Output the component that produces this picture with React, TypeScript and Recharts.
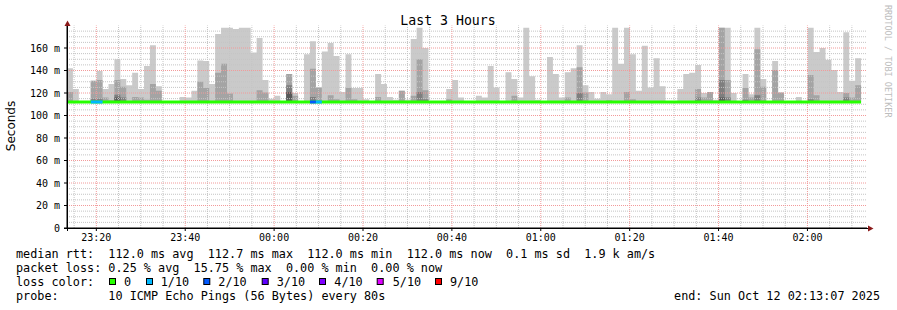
import React from 'react';
import { ComposedChart, Area, Line, XAxis, YAxis, ReferenceLine } from 'recharts';

// time axis: minutes after 23:00 (so 60 = 00:00)
const START_MIN = 13.4;
const STEP_MIN = 80 / 60;
const MEDIAN_RTT = 112; // ms

// smoke band tops (ms), one value per 80 s step
const lightTop = [
  142, 123.5, 112, 112, 131, 139.5, 123.5, 128, 150, 132.5,
  127, 138, 123.5, 144, 162.5, 126, 112, 113, 113, 116.5,
  116, 122, 149, 148.5, 128, 172.5, 178, 178, 177, 178,
  178, 156, 169, 131.5, 115, 117.5, 112, 137, 120, 112,
  154.5, 166, 125, 157, 164.5, 153, 121, 154.5, 124.5, 124.5,
  114.5, 112, 137, 128, 116.5, 114, 122, 114, 168, 178,
  160, 112, 112, 112, 123.5, 131.5, 116, 112, 112, 117.5,
  116, 144, 125, 112, 138.5, 132.5, 116, 178, 135, 114,
  112, 152, 137, 116, 138.5, 142, 162.5, 127, 121, 115,
  121, 119, 178, 146, 178, 154.5, 122, 162, 125, 151,
  126, 112, 113, 123.5, 137, 138, 145, 120, 121, 114,
  178, 178, 120, 112, 137, 119, 178, 132.5, 112, 148.5,
  121, 112, 112, 116.5, 112, 178, 156.5, 160, 149.5, 140.5,
  121, 174, 131, 151,
];
const medTop = [
  121, 112, 112, 112, 131, 131.5, 116, 113.5, 131.5, 125.5,
  112, 116.5, 116, 114, 128, 122, 112, 112, 112, 112,
  112, 112, 130, 124.5, 112, 138, 146, 119.5, 112, 112,
  112, 112, 122.5, 120.5, 112, 112, 112, 137, 117.5, 112,
  112, 141.5, 125, 112, 118, 114.5, 112, 124.5, 114.5, 112,
  112, 112, 116.5, 112, 112, 112, 122, 112, 117.5, 150,
  122.5, 112, 112, 112, 114.5, 112, 112, 112, 112, 112,
  112, 112, 112, 112, 112, 117.5, 113, 112, 112, 112,
  112, 112, 112, 112, 116, 112, 143, 120.5, 113, 112,
  112, 113.5, 112, 112, 121, 114.5, 112, 112, 112, 112,
  112, 112, 112, 112, 112, 112, 123.5, 116, 121, 112,
  178, 131.5, 112, 112, 124.5, 116, 159, 125.5, 112, 140.5,
  120, 112, 112, 112, 112, 136, 118, 112, 112, 112,
  112, 120, 116, 127,
];
const darkTop = [
  112, 112, 112, 112, 115, 115, 112, 112, 118.5, 116,
  112, 112, 112, 112, 112, 112, 112, 112, 112, 112,
  112, 112, 112, 112, 112, 112, 112, 112, 112, 112,
  112, 112, 112, 112, 112, 112, 112, 127, 112, 112,
  112, 116.5, 113, 112, 112, 112, 112, 113, 112, 112,
  112, 112, 112, 112, 112, 112, 112, 112, 112, 121,
  114.5, 112, 112, 112, 112, 112, 112, 112, 112, 112,
  112, 112, 112, 112, 112, 112, 112, 112, 112, 112,
  112, 112, 112, 112, 112, 112, 120, 112, 112, 112,
  112, 112, 112, 112, 112, 112, 112, 112, 112, 112,
  112, 112, 112, 112, 112, 112, 116, 112, 112, 112,
  131.5, 116, 112, 112, 114, 112, 118, 113, 112, 113,
  112, 112, 112, 112, 112, 114.5, 112, 112, 112, 112,
  112, 116, 112, 112,
];
const darkestTop = [
  112, 112, 112, 112, 112, 112, 112, 112, 116, 112,
  112, 112, 112, 112, 112, 112, 112, 112, 112, 112,
  112, 112, 112, 112, 112, 112, 112, 112, 112, 112,
  112, 112, 112, 112, 112, 112, 112, 121, 112, 112,
  112, 112, 112, 112, 112, 112, 112, 112, 112, 112,
  112, 112, 112, 112, 112, 112, 112, 112, 112, 112,
  112, 112, 112, 112, 112, 112, 112, 112, 112, 112,
  112, 112, 112, 112, 112, 112, 112, 112, 112, 112,
  112, 112, 112, 112, 112, 112, 112, 112, 112, 112,
  112, 112, 112, 112, 112, 112, 112, 112, 112, 112,
  112, 112, 112, 112, 112, 112, 112, 112, 112, 112,
  116, 112, 112, 112, 112, 112, 112, 112, 112, 112,
  112, 112, 112, 112, 112, 112, 112, 112, 112, 112,
  112, 112, 112, 112,
];
// lost pings (out of 10) per step
const lossCount = [
  0, 0, 0, 0, 1, 1, 0, 0, 0, 0,
  0, 0, 0, 0, 0, 0, 0, 0, 0, 0,
  0, 0, 0, 0, 0, 0, 0, 0, 0, 0,
  0, 0, 0, 0, 0, 0, 0, 0, 0, 0,
  0, 2, 1, 0, 0, 0, 0, 0, 0, 0,
  0, 0, 0, 0, 0, 0, 0, 0, 0, 0,
  0, 0, 0, 0, 0, 0, 0, 0, 0, 0,
  0, 0, 0, 0, 0, 0, 0, 0, 0, 0,
  0, 0, 0, 0, 0, 0, 0, 0, 0, 0,
  0, 0, 0, 0, 0, 0, 0, 0, 0, 0,
  0, 0, 0, 0, 0, 0, 0, 0, 0, 0,
  0, 0, 0, 0, 0, 0, 0, 0, 0, 0,
  0, 0, 0, 0, 0, 0, 0, 0, 0, 0,
  0, 0, 0, 0,
];

const majorXTicks = [20, 40, 60, 80, 100, 120, 140, 160, 180];
const minorXTicks = [15, 25, 30, 35, 45, 50, 55, 65, 70, 75, 85, 90, 95, 105, 110, 115, 125, 130, 135, 145, 150, 155, 165, 170, 175, 185, 190];
const yTickValues = [0, 20, 40, 60, 80, 100, 120, 140, 160];
const majorYGrid = [20, 40, 60, 80, 100, 120, 140, 160];
const minorYGrid = [5, 10, 15, 25, 30, 35, 45, 50, 55, 65, 70, 75, 85, 90, 95, 105, 110, 115, 125, 130, 135, 145, 150, 155, 165, 170, 175];

const lossLegend = [
  { label: '0', color: '#26ff00', box: 109, text: 124 },
  { label: '1/10', color: '#00b8ff', box: 146, text: 160.7 },
  { label: '2/10', color: '#0059ff', box: 203.3, text: 218.3 },
  { label: '3/10', color: '#5e00ff', box: 261.7, text: 276.7 },
  { label: '4/10', color: '#7e00ff', box: 319, text: 334.3 },
  { label: '5/10', color: '#dd00ff', box: 376.7, text: 392.7 },
  { label: '9/10', color: '#ff0000', box: 435, text: 450 },
];

const fmtTime = (m: number) => {
  const h = (23 + Math.floor(m / 60)) % 24;
  const mm = Math.round(m % 60);
  return `${String(h).padStart(2, '0')}:${String(mm).padStart(2, '0')}`;
};

const mark = (arr: number[], i: number, level: number) =>
  arr[i] === level || (i > 0 && arr[i - 1] === level) ? MEDIAN_RTT : null;

const n = lightTop.length;
const rows: any[] = [];
for (let i = 0; i <= n; i++) {
  const k = Math.min(i, n - 1);
  rows.push({
    t: START_MIN + i * STEP_MIN,
    light: [MEDIAN_RTT, lightTop[k]],
    med: [MEDIAN_RTT, medTop[k]],
    dark: [MEDIAN_RTT, darkTop[k]],
    darkest: [MEDIAN_RTT, darkestTop[k]],
    median: MEDIAN_RTT,
    loss1: i < n ? mark(lossCount, i, 1) : (lossCount[n - 1] === 1 ? MEDIAN_RTT : null),
    loss2: i < n ? mark(lossCount, i, 2) : (lossCount[n - 1] === 2 ? MEDIAN_RTT : null),
  });
}

const MONO = 'DejaVu Sans Mono';
const tickStyle = { fontFamily: MONO, fontSize: 10, fill: '#000' };
const MINOR = '#c4c4c4';
const MAJOR = '#f29a9a';

export default function App() {
  return (
    <div style={{ position: 'absolute', left: 0, top: 0, width: 897, height: 310, background: '#fff' }}>
      <ComposedChart
        width={897}
        height={310}
        data={rows}
        margin={{ top: 25.5, right: 30, bottom: 62, left: 0 }}
      >
        <XAxis
          dataKey="t"
          type="number"
          domain={[13.4, 193.4]}
          ticks={majorXTicks}
          interval={0}
          tickFormatter={fmtTime}
          allowDataOverflow
          height={20}
          tickSize={3}
          tickMargin={3}
          tick={tickStyle}
          stroke="#000"
          tickLine={{ stroke: '#000' }}
          axisLine={{ stroke: '#000' }}
        />
        <YAxis
          type="number"
          domain={[0, 180]}
          ticks={yTickValues}
          interval={0}
          tickFormatter={(v: number) => (v === 0 ? '0' : `${v} m`)}
          allowDataOverflow
          width={67}
          tickSize={3}
          tickMargin={4}
          tick={tickStyle}
          stroke="#000"
          tickLine={{ stroke: '#000' }}
          axisLine={{ stroke: '#000' }}
        />
        <Area type="stepAfter" dataKey="light" fill="#cacaca" fillOpacity={1} stroke="none" dot={false} activeDot={false} isAnimationActive={false} />
        <Area type="stepAfter" dataKey="med" fill="#a4a4a4" fillOpacity={1} stroke="none" dot={false} activeDot={false} isAnimationActive={false} />
        <Area type="stepAfter" dataKey="dark" fill="#7e7e7e" fillOpacity={1} stroke="none" dot={false} activeDot={false} isAnimationActive={false} />
        <Area type="stepAfter" dataKey="darkest" fill="#585858" fillOpacity={1} stroke="none" dot={false} activeDot={false} isAnimationActive={false} />
        {minorYGrid.map((v) => (
          <ReferenceLine key={`my${v}`} y={v} stroke={MINOR} strokeDasharray="1 1" />
        ))}
        {minorXTicks.map((v) => (
          <ReferenceLine key={`mx${v}`} x={v} stroke={MINOR} strokeDasharray="1 1" />
        ))}
        {majorYGrid.map((v) => (
          <ReferenceLine key={`My${v}`} y={v} stroke={MAJOR} strokeDasharray="1 1" />
        ))}
        {majorXTicks.map((v) => (
          <ReferenceLine key={`Mx${v}`} x={v} stroke={MAJOR} strokeDasharray="1 1" />
        ))}
        <Line type="stepAfter" dataKey="median" stroke="#26ff00" strokeWidth={3} dot={false} activeDot={false} isAnimationActive={false} />
        <Line type="stepAfter" dataKey="loss1" stroke="#00b8ff" strokeWidth={3} dot={false} activeDot={false} isAnimationActive={false} />
        <Line type="stepAfter" dataKey="loss2" stroke="#0059ff" strokeWidth={3} dot={false} activeDot={false} isAnimationActive={false} />
      </ComposedChart>
      <svg
        width={897}
        height={310}
        style={{ position: 'absolute', left: 0, top: 0, pointerEvents: 'none' }}
      >
        {/* axis extensions and arrows */}
        <line x1={64} y1={228.5} x2={869} y2={228.5} stroke="#000" strokeWidth={1} />
        <line x1={67.5} y1={231} x2={67.5} y2={24} stroke="#000" strokeWidth={1} />
        <polygon points="868,225.5 868,231.5 873.5,228.5" fill="#8b1a1a" />
        <polygon points="64.5,26 70.5,26 67.5,20.5" fill="#8b1a1a" />
        <text x={448} y={24.5} textAnchor="middle" fontFamily={MONO} fontSize={13.2} fill="#000">
          Last 3 Hours
        </text>
        <text
          transform="translate(15,126) rotate(-90)"
          textAnchor="middle"
          fontFamily="DejaVu Sans"
          fontSize={12}
          fill="#000"
        >
          Seconds
        </text>
        <text
          transform="translate(885,5) rotate(90)"
          fontFamily={MONO}
          fontSize={8.5}
          fill="#bdbdbd"
        >
          RRDTOOL / TOBI OETIKER
        </text>
        <text x={16} y={258} fontFamily={MONO} fontSize={11.8} fill="#000" style={{ whiteSpace: 'pre' }}>
          {'median rtt:  112.0 ms avg  112.7 ms max  112.0 ms min  112.0 ms now  0.1 ms sd  1.9 k am/s'}
        </text>
        <text x={16} y={272} fontFamily={MONO} fontSize={11.8} fill="#000" style={{ whiteSpace: 'pre' }}>
          {'packet loss: 0.25 % avg  15.75 % max  0.00 % min  0.00 % now'}
        </text>
        <text x={16} y={286} fontFamily={MONO} fontSize={11.8} fill="#000" style={{ whiteSpace: 'pre' }}>
          {'loss color:'}
        </text>
        {lossLegend.map((l) => (
          <g key={l.label}>
            <rect x={l.box + 0.5} y={278.5} width={6} height={6} fill={l.color} stroke="#000" strokeWidth={1} />
            <text x={l.text} y={286} fontFamily={MONO} fontSize={11.8} fill="#000">
              {l.label}
            </text>
          </g>
        ))}
        <text x={16} y={300} fontFamily={MONO} fontSize={11.8} fill="#000" style={{ whiteSpace: 'pre' }}>
          {'probe:       10 ICMP Echo Pings (56 Bytes) every 80s'}
        </text>
        <text x={880} y={300} textAnchor="end" fontFamily={MONO} fontSize={11.8} fill="#000">
          end: Sun Oct 12 02:13:07 2025
        </text>
      </svg>
    </div>
  );
}
